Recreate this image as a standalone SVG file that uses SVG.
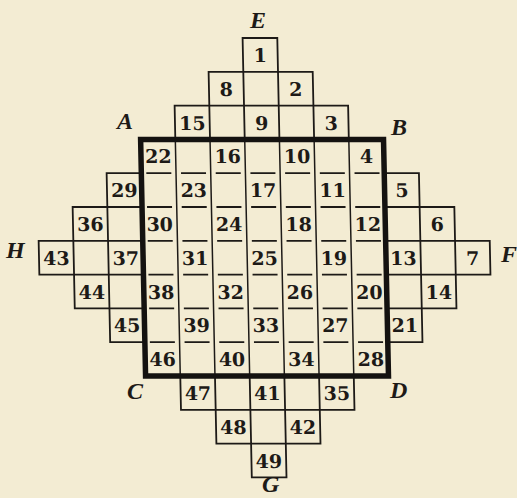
<svg xmlns="http://www.w3.org/2000/svg" width="517" height="498" viewBox="0 0 517 498">
<style>
.bg{fill:#F3ECD3}
.ln{fill:none;stroke:#1d1a17;stroke-width:1.8;stroke-linecap:square}
.in{fill:none;stroke:#1d1a17;stroke-width:1.5}
.dash{fill:none;stroke:#1d1a17;stroke-width:1.8;stroke-dasharray:25 9.7;stroke-dashoffset:29.7}
.sq{fill:none;stroke:#141210;stroke-width:5.5;stroke-linejoin:miter}
.n{font-family:"DejaVu Serif","Liberation Serif",serif;font-weight:bold;font-size:19px;fill:#1d1a17;text-anchor:middle}
.l{font-family:"Liberation Serif","DejaVu Serif",serif;font-weight:bold;font-style:italic;font-size:24px;fill:#1d1a17}
</style>
<rect class="bg" x="0" y="0" width="517" height="498"/>
<g transform="skewX(1.2)">
<g id="connectors">
<path class="in" d="M172.4 139.4V376M207.1 139.4V376M241.8 139.4V376M276.5 139.4V376M311.2 139.4V376M345.9 139.4V376"/>
<path class="dash" d="M137.7 173.2H380.6M137.7 207H380.6M137.7 240.8H380.6M137.7 274.6H380.6M137.7 308.4H380.6M137.7 342.2H380.6"/>
<path class="ln" d="M241.8 38H276.5M241.8 38V71.8M276.5 38V71.8
M207.1 71.8H311.2M207.1 71.8V105.6M241.8 71.8V105.6M276.5 71.8V105.6M311.2 71.8V105.6
M172.4 105.6H345.9M172.4 105.6V139.4M207.1 105.6V139.4M241.8 105.6V139.4M276.5 105.6V139.4M311.2 105.6V139.4M345.9 105.6V139.4"/>
<path class="ln" d="M103 173.2H137.7M103 173.2V207
M68.3 207H137.7M68.3 207V240.8M103 207V240.8
M33.6 240.8H137.7M33.6 274.6H137.7M33.6 240.8V274.6M68.3 240.8V274.6M103 240.8V274.6
M68.3 308.4H137.7M68.3 274.6V308.4M103 274.6V308.4
M103 342.2H137.7M103 308.4V342.2"/>
<path class="ln" d="M380.6 173.2H415.3M415.3 173.2V207
M380.6 207H450M415.3 207V240.8M450 207V240.8
M380.6 240.8H484.7M380.6 274.6H484.7M415.3 240.8V274.6M450 240.8V274.6M484.7 240.8V274.6
M380.6 308.4H450M415.3 274.6V308.4M450 274.6V308.4
M380.6 342.2H415.3M415.3 308.4V342.2"/>
<path class="ln" d="M172.4 409.8H345.9M172.4 376V409.8M207.1 376V409.8M241.8 376V409.8M276.5 376V409.8M311.2 376V409.8M345.9 376V409.8
M207.1 443.6H311.2M207.1 409.8V443.6M241.8 409.8V443.6M276.5 409.8V443.6M311.2 409.8V443.6
M241.8 477.4H276.5M241.8 443.6V477.4M276.5 443.6V477.4"/>
</g>
<g id="square-ABCD"><rect class="sq" x="137.7" y="139.4" width="242.9" height="236.6"/></g>
<g id="numbers" class="n">
<text id="n1" x="259.15" y="62">1</text>
<text id="n8" x="224.45" y="95.8">8</text><text id="n2" x="293.85" y="95.8">2</text>
<text id="n15" x="189.75" y="129.6">15</text><text id="n9" x="259.15" y="129.6">9</text><text id="n3" x="328.55" y="129.6">3</text>
<text id="n22" x="155.05" y="163.4">22</text><text id="n16" x="224.45" y="163.4">16</text><text id="n10" x="293.85" y="163.4">10</text><text id="n4" x="363.25" y="163.4">4</text>
<text id="n29" x="120.35" y="197.2">29</text><text id="n23" x="189.75" y="197.2">23</text><text id="n17" x="259.15" y="197.2">17</text><text id="n11" x="328.55" y="197.2">11</text><text id="n5" x="397.95" y="197.2">5</text>
<text id="n36" x="85.65" y="231">36</text><text id="n30" x="155.05" y="231">30</text><text id="n24" x="224.45" y="231">24</text><text id="n18" x="293.85" y="231">18</text><text id="n12" x="363.25" y="231">12</text><text id="n6" x="432.65" y="231">6</text>
<text id="n43" x="50.95" y="264.8">43</text><text id="n37" x="120.35" y="264.8">37</text><text id="n31" x="189.75" y="264.8">31</text><text id="n25" x="259.15" y="264.8">25</text><text id="n19" x="328.55" y="264.8">19</text><text id="n13" x="397.95" y="264.8">13</text><text id="n7" x="467.35" y="264.8">7</text>
<text id="n44" x="85.65" y="298.6">44</text><text id="n38" x="155.05" y="298.6">38</text><text id="n32" x="224.45" y="298.6">32</text><text id="n26" x="293.85" y="298.6">26</text><text id="n20" x="363.25" y="298.6">20</text><text id="n14" x="432.65" y="298.6">14</text>
<text id="n45" x="120.35" y="332.4">45</text><text id="n39" x="189.75" y="332.4">39</text><text id="n33" x="259.15" y="332.4">33</text><text id="n27" x="328.55" y="332.4">27</text><text id="n21" x="397.95" y="332.4">21</text>
<text id="n46" x="155.05" y="366.2">46</text><text id="n40" x="224.45" y="366.2">40</text><text id="n34" x="293.85" y="366.2">34</text><text id="n28" x="363.25" y="366.2">28</text>
<text id="n47" x="189.75" y="400">47</text><text id="n41" x="259.15" y="400">41</text><text id="n35" x="328.55" y="400">35</text>
<text id="n48" x="224.45" y="433.8">48</text><text id="n42" x="293.85" y="433.8">42</text>
<text id="n49" x="259.15" y="467.6">49</text>
</g>
</g>
<g id="labels" class="l">
<text id="lA" x="117" y="129">A</text>
<text id="lB" x="391" y="135">B</text>
<text id="lC" x="127" y="399">C</text>
<text id="lD" x="390" y="398">D</text>
<text id="lE" x="250" y="28">E</text>
<text id="lF" x="501" y="262">F</text>
<text id="lG" x="262" y="492">G</text>
<text id="lH" x="6" y="258">H</text>
</g>
</svg>
